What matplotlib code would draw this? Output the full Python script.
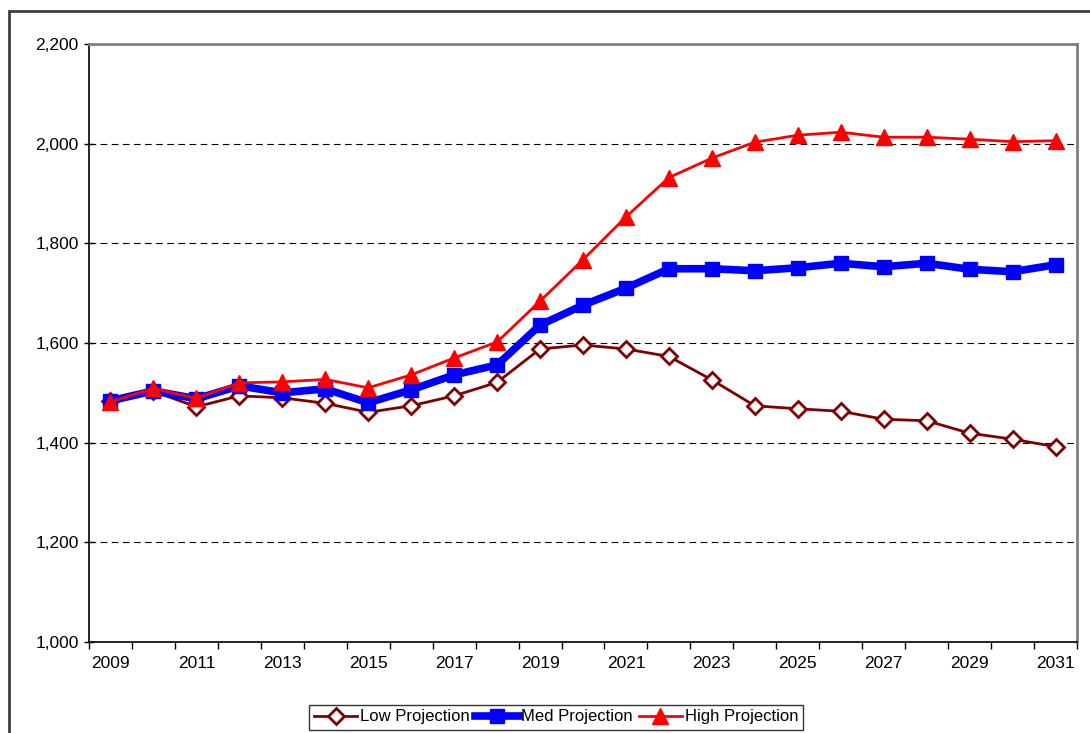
import numpy as np
import matplotlib.pyplot as plt
from matplotlib.patches import Rectangle

plt.rcParams['font.family'] = ['Liberation Sans', 'DejaVu Sans']

# dados
anos = list(range(2009, 2032))
baixa = [1483, 1503, 1472, 1494, 1490, 1479, 1461, 1474, 1494, 1521, 1588, 1596,
         1588, 1573, 1526, 1474, 1468, 1463, 1447, 1444, 1419, 1407, 1392]
media = [1484, 1504, 1488, 1514, 1500, 1508, 1480, 1506, 1536, 1556, 1636, 1676,
         1710, 1749, 1749, 1745, 1751, 1760, 1753, 1760, 1748, 1743, 1757]
alta = [1482, 1509, 1489, 1520, 1522, 1527, 1510, 1536, 1570, 1602, 1684, 1767,
        1853, 1932, 1971, 2003, 2017, 2023, 2013, 2013, 2009, 2004, 2006]
rotulos_y = [1000, 1200, 1400, 1600, 1800, 2000, 2200]

fig = plt.figure(figsize=(10.9, 7.33), dpi=100)
ax = fig.add_axes([89/1090, 1 - 642/733, (1077 - 89)/1090, (642 - 44)/733])

# moldura externa do gráfico
fig.patches.append(Rectangle((9/1090, -0.1), 1.2, 1.1 - 11/733, transform=fig.transFigure,
                             fill=False, edgecolor='#404040', linewidth=2))

x = np.arange(len(anos))
ax.plot(x, baixa, color='#800000', linewidth=2, marker='D', markersize=8.5,
        markerfacecolor='white', markeredgecolor='#800000', markeredgewidth=2,
        label='Low Projection', zorder=3)
ax.plot(x, media, color='#0000ff', linewidth=5.5, marker='s', markersize=10,
        markerfacecolor='#0000ff', markeredgecolor='#0000ff',
        label='Med Projection', zorder=4)
ax.plot(x, alta, color='#ff0000', linewidth=2, marker='^', markersize=11,
        markerfacecolor='#ff0000', markeredgecolor='#ff0000',
        label='High Projection', zorder=5)

ax.set_xlim(-0.5, len(anos) - 0.5)
ax.set_ylim(1000, 2200)
ax.set_yticks(rotulos_y)
ax.set_yticklabels([f'{v:,}' for v in rotulos_y])
ax.yaxis.grid(True, linestyle=(0, (6, 4)), color='black', linewidth=0.8)
ax.set_axisbelow(True)

# ticks nas divisas das categorias, rótulos a cada dois anos
ax.set_xticks(np.arange(len(anos) + 1) - 0.5)
ax.set_xticklabels([])
ax.set_xticks(x[::2], minor=True)
ax.set_xticklabels([str(a) for a in anos[::2]], minor=True)
ax.tick_params(axis='x', which='major', direction='out', length=5, width=1)
ax.tick_params(axis='x', which='minor', length=0, pad=10, labelsize=12.5)
ax.tick_params(axis='y', direction='inout', length=7, width=1, labelsize=12.5, pad=4)

for lado in ['top', 'right']:
    ax.spines[lado].set_color('#808080')
    ax.spines[lado].set_linewidth(2)
ax.spines['left'].set_color('black')
ax.spines['bottom'].set_color('black')
ax.spines['left'].set_linewidth(1.2)
ax.spines['bottom'].set_linewidth(1.2)

leg = fig.legend(loc='center', bbox_to_anchor=(556/1090, 1 - 717/733), ncol=3,
                 frameon=True, fancybox=False, edgecolor='black', fontsize=12,
                 handlelength=2.6, handletextpad=0.15, columnspacing=0.35,
                 borderpad=0.3, borderaxespad=0)
leg.get_frame().set_linewidth(1)

fig.savefig('out.png', dpi=100)
